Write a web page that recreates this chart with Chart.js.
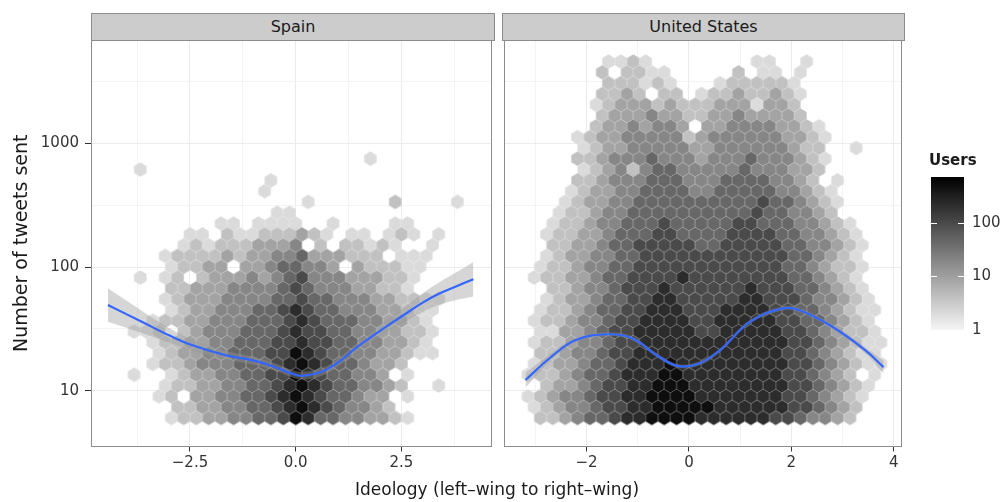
<!DOCTYPE html>
<html>
<head>
<meta charset="utf-8">
<script src="https://cdn.jsdelivr.net/npm/chart.js@4.4.1/dist/chart.umd.min.js"></script>
<style>
    body {
        margin: 0;
        width: 1003px;
        height: 502px;
        position: relative;
        overflow: hidden;
        background: #fff;
        font-family: "DejaVu Sans", sans-serif;
        color: #1a1a1a;
    }
    canvas { position: absolute; }
    #spain { left: 0; top: 0; }
    #usa { left: 498px; top: 0; }
    #colorbar { left: 931px; top: 160px; }
    .strip {
        position: absolute;
        top: 13px;
        height: 28px;
        box-sizing: border-box;
        background: #cccccc;
        border: 1px solid #8c8c8c;
        text-align: center;
        font-size: 16px;
        line-height: 26px;
    }
    #xtitle {
        position: absolute;
        left: 297px;
        width: 400px;
        top: 479px;
        text-align: center;
        font-size: 17px;
    }
    #legtitle {
        position: absolute;
        left: 929px;
        top: 151px;
        font-size: 15px;
        font-weight: bold;
    }
</style>
</head>
<body>
<canvas id="spain" width="498" height="502"></canvas>
<canvas id="usa" width="410" height="502"></canvas>
<canvas id="colorbar" width="72" height="190"></canvas>
<div class="strip" style="left:91px;width:404px">Spain</div>
<div class="strip" style="left:502px;width:403px">United States</div>
<div id="xtitle">Ideology (left–wing to right–wing)</div>
<div id="legtitle">Users</div>

<script>
    // hex bins: one string per row, top row first. digit = class of user count, '.' = empty bin
    const userClasses = [0, 1, 2, 4, 9, 20, 45, 100, 220, 500];
    const maxUsers = 724;
    const binLog0 = 0.780;      // log10(tweets) of the bottom row
    const binLogStep = 0.0873;  // log10 step between rows
    const spainBinX0 = -4.116, spainBinW = 0.294;
    const usBinX0 = -3.143, usBinW = 0.2418;

    const spainRows = [
        "....................2.......",
        ".2..........................",
        "............2...............",
        "...........2................",
        "...............2......3....2",
        "............22..............",
        "........22.2222..2....22....",
        ".....22.322333432.22.232.2..",
        ".....2323334445.3.33232..2..",
        "...233334344556444333.222...",
        "....23344.44566554.433322...",
        ".2.23.344454567555444332....",
        "....33444555567655544332....",
        "...23444555566766555443322..",
        "....2344555667876655544322..",
        "..23344555666787666554432...",
        ".223.345556667877665544332..",
        "..23344556667787766554432...",
        "...23445566677987665544322..",
        "..233455566678987665443.....",
        ".2..234455667798766554.2....",
        "...23344556678987665543..2..",
        "...23.4455667898766544.2....",
        "....334455667898765543......",
        "....23344556679866554432...."
    ];

    const usRows = [
        "......2232........22..2.......",
        "......3.3322.....3.22.2.......",
        "......333232...2333332........",
        "......3343.33.233433432.......",
        ".....23444343334442443........",
        "......34445443344544443.......",
        ".....34454554.4455554432......",
        "....234455555345555554432.....",
        "....23445555544555555433..2...",
        "....334555655545556555432.....",
        "....23453566555556555443......",
        "....33455566655566665543.2....",
        "...2344556666556666655432.....",
        "...23445566666666667665432....",
        "..23345566666666667665543.....",
        "..2334556667666667766655432...",
        ".23344566677666677776655432...",
        "..33445667777766777776655432..",
        ".23445566777777777777665432...",
        ".233455667777777777776654332..",
        "233445667777877777777665432...",
        "..33455677787777778777665432..",
        ".234456677887777788777655432..",
        ".2334566778887778888776654322.",
        "2334556778888778888877665432..",
        ".2244567788888778888877654332.",
        "23345567788888888888877654322.",
        ".3345567788888888888877654322.",
        "23445667888988888888877654322.",
        "233456678889988888888776543.2.",
        ".344567788999888888887765432..",
        "2345567788999988888887765432..",
        "234556778899999888888776543...",
        ".33456678899998888887765543..."
    ];

    // loess fits and their bands
    const spainSmoothX = [-4.44, -3.64, -3.01, -2.46, -1.69, -0.89, -0.42, -0.11, 0.16, 0.63, 1.02, 1.41, 1.80, 2.20, 2.59, 2.98, 3.37, 3.76, 4.20];
    const spainSmoothY = [49.3, 36.1, 28.2, 23.4, 19.5, 17.2, 15.2, 13.8, 13.2, 14.3, 17.1, 22.0, 27.4, 34.0, 41.7, 51.0, 60.5, 69.0, 79.6];
    const spainBandLow = [36.1, 29.3, 24.6, 21.1, 18.0, 16.0, 14.2, 12.9, 12.3, 13.3, 16.0, 20.3, 25.0, 30.3, 36.3, 42.9, 49.2, 53.6, 57.7];
    const spainBandHigh = [67.3, 44.4, 32.4, 25.9, 21.1, 18.4, 16.3, 14.8, 14.2, 15.3, 18.3, 23.8, 30.0, 38.1, 47.9, 60.6, 74.4, 88.9, 109.8];

    const usSmoothX = [-3.19, -2.72, -2.21, -1.56, -1.11, -0.59, -0.21, 0.20, 0.61, 1.19, 1.83, 2.15, 2.80, 3.44, 3.80];
    const usSmoothY = [12.2, 18.3, 25.7, 28.6, 26.5, 18.9, 15.8, 16.6, 21.3, 36.0, 46.3, 44.9, 32.9, 21.3, 15.5];
    const usBandLow = [10.6, 17.1, 24.5, 27.6, 25.6, 18.3, 15.3, 16.0, 20.6, 34.8, 44.7, 43.4, 31.4, 20.1, 13.8];
    const usBandHigh = [14.0, 19.6, 26.9, 29.6, 27.4, 19.6, 16.4, 17.2, 22.0, 37.3, 47.9, 46.5, 34.4, 22.6, 17.4];

    const yMajor = [10, 100, 1000];
    const yMinor = [31.62, 316.2, 3162];
    const spainXMajor = [-2.5, 0, 2.5];
    const spainXMinor = [-3.75, -1.25, 1.25, 3.75];
    const usXMajor = [-2, 0, 2, 4];
    const usXMinor = [-3, -1, 1, 3];
    const legendTicks = [1, 10, 100];

    const FONT = "'DejaVu Sans', sans-serif";

    function userGray(n) {
        // near white -> black on a log scale
        const t = Math.log(n) / Math.log(maxUsers);
        const g = Math.round(245 * (1 - Math.min(1, Math.max(0, t))));
        return 'rgb(' + g + ',' + g + ',' + g + ')';
    }

    function hexPoints(rows, x0, w) {
        const pts = [];
        rows.forEach(function (row, i) {
            const r = rows.length - 1 - i;
            const shift = r % 2 ? 0.5 : 0;
            const y = Math.pow(10, binLog0 + r * binLogStep);
            for (let c = 0; c < row.length; c++) {
                if (row[c] === '.') continue;
                pts.push({x: x0 + (c + shift) * w, y: y, n: userClasses[+row[c]]});
            }
        });
        return pts;
    }

    const hexCache = {};
    function hexStyle(ctx) {
        const xs = ctx.chart.scales.x, ys = ctx.chart.scales.y;
        const w = Math.abs(xs.getPixelForValue(ctx.dataset.binWidth) - xs.getPixelForValue(0));
        const s = Math.abs(ys.getPixelForValue(1) - ys.getPixelForValue(Math.pow(10, binLogStep)));
        const h = s * 4 / 3;
        const n = ctx.raw.n;
        const key = n + '|' + w.toFixed(2) + '|' + h.toFixed(2);
        if (!hexCache[key]) {
            const cv = document.createElement('canvas');
            cv.width = Math.ceil(w) + 2;
            cv.height = Math.ceil(h) + 2;
            const g = cv.getContext('2d');
            const cx = cv.width / 2, cy = cv.height / 2;
            g.beginPath();
            g.moveTo(cx, cy - h / 2);
            g.lineTo(cx + w / 2, cy - h / 4);
            g.lineTo(cx + w / 2, cy + h / 4);
            g.lineTo(cx, cy + h / 2);
            g.lineTo(cx - w / 2, cy + h / 4);
            g.lineTo(cx - w / 2, cy - h / 4);
            g.closePath();
            g.fillStyle = userGray(n);
            g.fill();
            hexCache[key] = cv;
        }
        return hexCache[key];
    }

    function xy(xs, ys) {
        return xs.map(function (x, i) { return {x: x, y: ys[i]}; });
    }

    const panelBorder = {
        id: 'panelBorder',
        afterDraw: function (chart) {
            const a = chart.chartArea, g = chart.ctx;
            g.save();
            g.strokeStyle = '#8c8c8c';
            g.lineWidth = 1;
            const l = Math.round(a.left), t = Math.round(a.top);
            g.strokeRect(l + 0.5, t + 0.5, Math.round(a.right) - l - 1, Math.round(a.bottom) - t - 1);
            g.restore();
        }
    };

    function minus(s) { return s.replace('-', '\u2212'); }

    function xScale(min, max, majors, minors, digits) {
        return {
            type: 'linear', min: min, max: max,
            afterBuildTicks: function (s) {
                s.ticks = minors.concat(majors).sort(function (a, b) { return a - b; }).map(function (v) { return {value: v}; });
            },
            afterFit: function (s) { s.height = 55.5; },
            border: {display: false},
            grid: {
                color: function (c) { return majors.includes(c.tick.value) ? '#ebebeb' : '#f4f4f4'; },
                tickColor: function (c) { return majors.includes(c.tick.value) ? '#333333' : 'rgba(0,0,0,0)'; },
                tickLength: 5
            },
            ticks: {
                autoSkip: false, maxRotation: 0, padding: 3, color: '#333333',
                font: {family: FONT, size: 15},
                callback: function (v) { return majors.includes(v) ? minus(v.toFixed(digits)) : ''; }
            }
        };
    }

    function yScale(showLabels) {
        const ticksAll = yMinor.concat(yMajor).sort(function (a, b) { return a - b; });
        return {
            type: 'logarithmic', min: 3.54, max: 6840,
            afterBuildTicks: function (s) { s.ticks = ticksAll.map(function (v) { return {value: v}; }); },
            afterFit: function (s) { s.width = showLabels ? 91 : 0; },
            border: {display: false},
            grid: {
                color: function (c) { return yMajor.includes(c.tick.value) ? '#ebebeb' : '#f4f4f4'; },
                tickColor: function (c) { return yMajor.includes(c.tick.value) ? '#333333' : 'rgba(0,0,0,0)'; },
                tickLength: 6,
                drawTicks: showLabels
            },
            title: {
                display: showLabels, text: 'Number of tweets sent', color: '#1a1a1a',
                font: {family: FONT, size: 19}, padding: {top: 11, bottom: 0}
            },
            ticks: {
                display: showLabels, autoSkip: false, padding: 6, color: '#333333',
                font: {family: FONT, size: 15},
                callback: function (v) { return yMajor.includes(v) ? String(v) : ''; }
            }
        };
    }

    function panel(id, hexes, binW, sx, sy, lo, hi, xOpts, showY, pad) {
        return new Chart(document.getElementById(id), {
            type: 'scatter',
            data: {
                datasets: [{
                    type: 'line', data: xy(sx, sy), borderColor: '#3366ff', borderWidth: 2.2,
                    pointRadius: 0, tension: 0.4, fill: false, order: 1
                }, {
                    type: 'line', data: xy(sx, hi), borderWidth: 0, pointRadius: 0,
                    tension: 0.4, fill: '+1', backgroundColor: 'rgba(153,153,153,0.4)', order: 2
                }, {
                    type: 'line', data: xy(sx, lo), borderWidth: 0, pointRadius: 0,
                    tension: 0.4, fill: false, order: 2
                }, {
                    type: 'scatter', data: hexes, binWidth: binW, pointStyle: hexStyle,
                    pointRadius: 6, pointBorderWidth: 0, order: 3
                }]
            },
            options: {
                responsive: false, animation: false, events: [],
                layout: {padding: pad},
                plugins: {legend: {display: false}, tooltip: {enabled: false}},
                scales: {x: xOpts, y: yScale(showY)}
            },
            plugins: [panelBorder]
        });
    }

    panel('spain', hexPoints(spainRows, spainBinX0, spainBinW), spainBinW,
        spainSmoothX, spainSmoothY, spainBandLow, spainBandHigh,
        xScale(-4.84, 4.64, spainXMajor, spainXMinor, 1), true,
        {left: 0, right: 4, top: 40, bottom: 0});

    panel('usa', hexPoints(usRows, usBinX0, usBinW), usBinW,
        usSmoothX, usSmoothY, usBandLow, usBandHigh,
        xScale(-3.61, 4.16, usXMajor, usXMinor, 0), false,
        {left: 4, right: 4, top: 40, bottom: 0});

    // colour bar
    function barGradient(c) {
        const a = c.chart.chartArea;
        if (!a) return '#888888';
        const ys = c.chart.scales.y;
        const g = c.chart.ctx.createLinearGradient(0, ys.getPixelForValue(1), 0, ys.getPixelForValue(maxUsers));
        for (let i = 0; i <= 24; i++) {
            g.addColorStop(i / 24, userGray(Math.pow(maxUsers, i / 24)));
        }
        return g;
    }

    const colorbarTicks = {
        id: 'colorbarTicks',
        afterDatasetsDraw: function (chart) {
            const a = chart.chartArea, ys = chart.scales.y, g = chart.ctx;
            g.save();
            g.strokeStyle = '#ffffff';
            g.lineWidth = 1;
            legendTicks.filter(function (v) { return v > 1; }).forEach(function (v) {
                const y = Math.round(ys.getPixelForValue(v)) + 0.5;
                g.beginPath();
                g.moveTo(a.left, y); g.lineTo(a.left + 6, y);
                g.moveTo(a.right - 6, y); g.lineTo(a.right, y);
                g.stroke();
            });
            g.restore();
        }
    };

    new Chart(document.getElementById('colorbar'), {
        type: 'bar',
        data: {
            labels: ['Users'],
            datasets: [{
                data: [[1, maxUsers]], backgroundColor: barGradient, borderWidth: 0,
                barPercentage: 1, categoryPercentage: 1
            }]
        },
        options: {
            responsive: false, animation: false, events: [],
            layout: {padding: {top: 15, bottom: 20, left: 0, right: 0}},
            plugins: {legend: {display: false}, tooltip: {enabled: false}},
            scales: {
                x: {display: false},
                y: {
                    type: 'logarithmic', position: 'right', min: 1, max: maxUsers,
                    afterBuildTicks: function (s) { s.ticks = legendTicks.map(function (v) { return {value: v}; }); },
                    afterFit: function (s) { s.width = 39; },
                    grid: {display: false, drawTicks: false},
                    border: {display: false},
                    ticks: {
                        padding: 8, color: '#333333', font: {family: FONT, size: 15},
                        callback: function (v) { return String(v); }
                    }
                }
            }
        },
        plugins: [colorbarTicks]
    });
</script>
</body>
</html>
